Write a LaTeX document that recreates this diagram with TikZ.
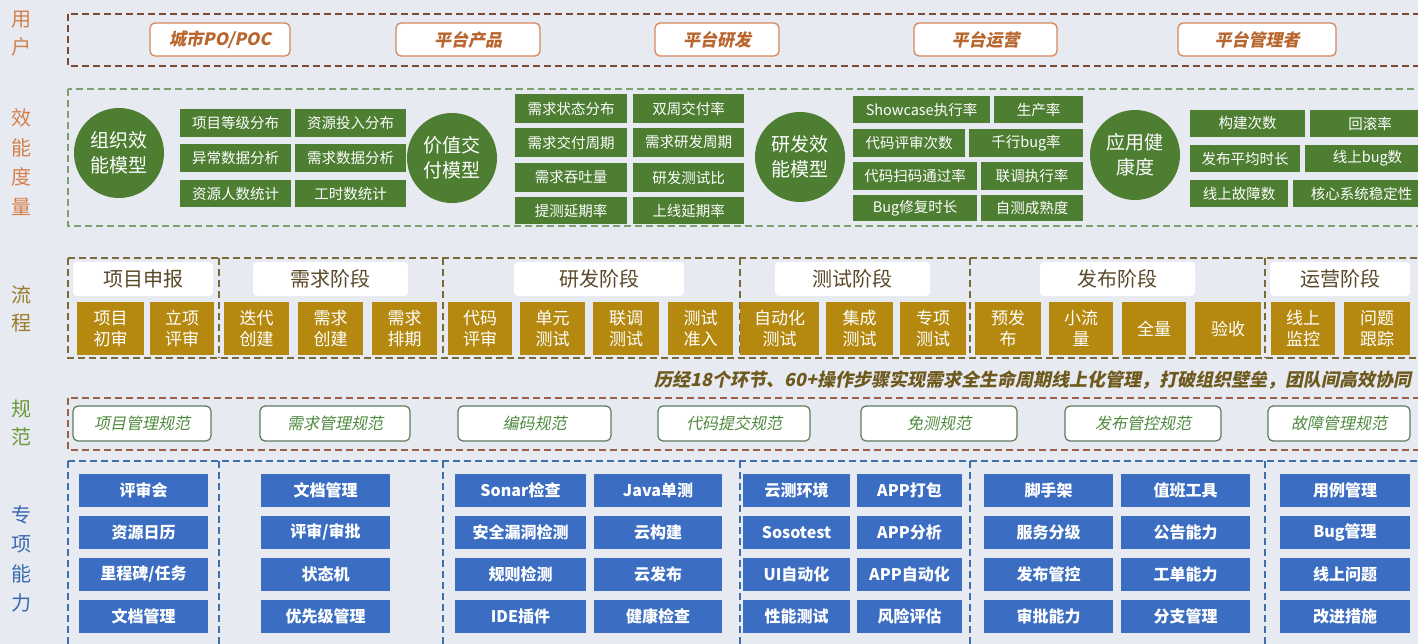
\documentclass[tikz,border=0pt]{standalone}
\usepackage{fontspec}
\setmainfont{Noto Sans CJK SC}
\newfontfamily\slfont{Noto Sans CJK SC}[FakeSlant=0.2]
\definecolor{bg}{HTML}{E7EAF0}
\definecolor{usrb}{HTML}{D4875A}
\definecolor{usrt}{HTML}{B8652E}
\definecolor{usrd}{HTML}{7A4A32}
\definecolor{grn}{HTML}{4E7E32}
\definecolor{grnd}{HTML}{7FA070}
\definecolor{gold}{HTML}{B5890F}
\definecolor{goldd}{HTML}{7A6A3A}
\definecolor{hdrt}{HTML}{5A4828}
\definecolor{capt}{HTML}{6E5A1E}
\definecolor{specd}{HTML}{9A6048}
\definecolor{specb}{HTML}{5E7A5E}
\definecolor{spect}{HTML}{4F8A3F}
\definecolor{blu}{HTML}{3B6EC2}
\definecolor{blud}{HTML}{3F6FA8}
\definecolor{lblo}{HTML}{D4804A}
\definecolor{lblg}{HTML}{9A7B2A}
\definecolor{lblgr}{HTML}{6A9A3A}
\definecolor{lblb}{HTML}{3A6AB0}
\newcommand\bx[7]{\node[#6, minimum width={(#4-#2)*1pt}, minimum height={(#5-#3)*1pt}, inner sep=0pt, outer sep=0pt] (#1) at ({(#2+#4)/2},{(#3+#5)/2}) {#7};}
\tikzset{
  dsh/.style={dash pattern=on 7pt off 4pt, line width=1.6pt},
  user/.style={draw=usrb, line width=1.3pt, rounded corners=5pt, fill=white, text=usrt, font=\slfont\bfseries\fontsize{17}{20}\selectfont},
  gbox/.style={fill=grn, text=white, font=\fontsize{14.5}{16}\selectfont},
  gcirc/.style={circle, fill=grn, text=white, align=center, font=\fontsize{19}{25}\selectfont, inner sep=0pt, minimum size=90pt},
  hdr/.style={fill=white, rounded corners=4pt, text=hdrt, font=\fontsize{20}{22}\selectfont},
  goldbox/.style={fill=gold, text=white, align=center, font=\fontsize{17}{21}\selectfont},
  spec/.style={draw=specb, line width=1.2pt, rounded corners=5pt, fill=white, text=spect, font=\slfont\fontsize{16}{18}\selectfont},
  blubox/.style={fill=blu, text=white, font=\bfseries\fontsize{16}{18}\selectfont},
  side/.style={align=center, font=\fontsize{20}{28}\selectfont},
}
\begin{document}
\begin{tikzpicture}[x=1pt,y=-1pt]
\useasboundingbox (0,0) rectangle (1418,644);
\fill[bg] (0,0) rectangle (1418,644);
\clip (0,0) rectangle (1418,644);
% side labels
\node[side, text=lblo] (l1) at (22,34) {用\\户};
\node[side, text=lblo, font=\fontsize{20}{29.5}\selectfont] (l2) at (22,162) {效\\能\\度\\量};
\node[side, text=lblg] (l3) at (22,309) {流\\程};
\node[side, text=lblgr] (l4) at (22,423) {规\\范};
\node[side, text=lblb, font=\fontsize{20}{29.5}\selectfont] (l5) at (22,559) {专\\项\\能\\力};
% row 1 users
\draw[dsh, usrd] (68,14) rectangle (1440,66);
\bx{u1}{150}{23}{290}{56}{user}{城市PO/POC}
\bx{u2}{396}{23}{540}{56}{user}{平台产品}
\bx{u3}{655}{23}{779}{56}{user}{平台研发}
\bx{u4}{914}{23}{1057}{56}{user}{平台运营}
\bx{u5}{1178}{23}{1336}{56}{user}{平台管理者}
% row 2 metrics
\draw[dsh, grnd] (68,89) rectangle (1440,226);
\node[gcirc] (c1) at (119,153) {组织效\\能模型};
\node[gcirc] (c2) at (452,158) {价值交\\付模型};
\node[gcirc] (c3) at (800,157) {研发效\\能模型};
\node[gcirc] (c4) at (1135,155) {应用健\\康度};
\bx{g11}{180}{109}{291}{137}{gbox}{项目等级分布}
\bx{g12}{295}{109}{406}{137}{gbox}{资源投入分布}
\bx{g13}{180}{144}{291}{172}{gbox}{异常数据分析}
\bx{g14}{295}{144}{406}{172}{gbox}{需求数据分析}
\bx{g15}{180}{180}{291}{207}{gbox}{资源人数统计}
\bx{g16}{295}{180}{406}{207}{gbox}{工时数统计}
\bx{g21}{515}{94}{627}{123}{gbox}{需求状态分布}
\bx{g22}{633}{94}{744}{123}{gbox}{双周交付率}
\bx{g23}{515}{128}{627}{157}{gbox}{需求交付周期}
\bx{g24}{633}{128}{744}{157}{gbox}{需求研发周期}
\bx{g25}{515}{163}{627}{192}{gbox}{需求吞吐量}
\bx{g26}{633}{163}{744}{192}{gbox}{研发测试比}
\bx{g27}{515}{197}{627}{224}{gbox}{提测延期率}
\bx{g28}{633}{197}{744}{224}{gbox}{上线延期率}
\bx{g31}{853}{96}{990}{123}{gbox}{Showcase执行率}
\bx{g32}{994}{96}{1083}{123}{gbox}{生产率}
\bx{g33}{853}{129}{965}{157}{gbox}{代码评审次数}
\bx{g34}{969}{129}{1083}{157}{gbox}{千行bug率}
\bx{g35}{853}{162}{977}{190}{gbox}{代码扫码通过率}
\bx{g36}{981}{162}{1083}{190}{gbox}{联调执行率}
\bx{g37}{853}{195}{977}{221}{gbox}{Bug修复时长}
\bx{g38}{981}{195}{1083}{221}{gbox}{自测成熟度}
\bx{g41}{1190}{110}{1305}{137}{gbox}{构建次数}
\bx{g42}{1310}{110}{1430}{137}{gbox}{回滚率}
\bx{g43}{1190}{145}{1300}{172}{gbox}{发布平均时长}
\bx{g44}{1305}{145}{1430}{172}{gbox}{线上bug数}
\bx{g45}{1190}{180}{1288}{207}{gbox}{线上故障数}
\bx{g46}{1293}{180}{1430}{207}{gbox}{核心系统稳定性}
% row 3 process
\draw[dsh, goldd] (68,258) rectangle (1440,358);
\foreach \xx in {219,443,740,970,1265} \draw[dsh, goldd] (\xx,258) -- (\xx,358);
\bx{h1}{73}{262}{213}{296}{hdr}{项目申报}
\bx{h2}{253}{262}{408}{296}{hdr}{需求阶段}
\bx{h3}{514}{262}{684}{296}{hdr}{研发阶段}
\bx{h4}{775}{262}{930}{296}{hdr}{测试阶段}
\bx{h5}{1040}{262}{1195}{296}{hdr}{发布阶段}
\bx{h6}{1270}{262}{1410}{296}{hdr}{运营阶段}
\bx{p1}{77}{302}{144}{355}{goldbox}{项目\\初审}
\bx{p2}{150}{302}{214}{355}{goldbox}{立项\\评审}
\bx{p3}{224}{302}{289}{355}{goldbox}{迭代\\创建}
\bx{p4}{298}{302}{363}{355}{goldbox}{需求\\创建}
\bx{p5}{372}{302}{437}{355}{goldbox}{需求\\排期}
\bx{p6}{448}{302}{512}{355}{goldbox}{代码\\评审}
\bx{p7}{520}{302}{585}{355}{goldbox}{单元\\测试}
\bx{p8}{593}{302}{659}{355}{goldbox}{联调\\测试}
\bx{p9}{668}{302}{733}{355}{goldbox}{测试\\准入}
\bx{p10}{740}{302}{819}{355}{goldbox}{自动化\\测试}
\bx{p11}{826}{302}{893}{355}{goldbox}{集成\\测试}
\bx{p12}{900}{302}{966}{355}{goldbox}{专项\\测试}
\bx{p13}{975}{302}{1041}{355}{goldbox}{预发\\布}
\bx{p14}{1049}{302}{1113}{355}{goldbox}{小流\\量}
\bx{p15}{1122}{302}{1186}{355}{goldbox}{全量}
\bx{p16}{1195}{302}{1261}{355}{goldbox}{验收}
\bx{p17}{1271}{302}{1335}{355}{goldbox}{线上\\监控}
\bx{p18}{1344}{302}{1410}{355}{goldbox}{问题\\跟踪}
\node[anchor=east, inner sep=0pt, text=capt, font=\slfont\bfseries\fontsize{18}{20}\selectfont] (cap) at (1412,380) {历经18个环节、60+操作步骤实现需求全生命周期线上化管理，打破组织壁垒，团队间高效协同};
% row 4 specs
\draw[dsh, specd] (68,398) rectangle (1440,450);
\bx{s1}{73}{406}{211}{441}{spec}{项目管理规范}
\bx{s2}{260}{406}{410}{441}{spec}{需求管理规范}
\bx{s3}{458}{406}{611}{441}{spec}{编码规范}
\bx{s4}{658}{406}{810}{441}{spec}{代码提交规范}
\bx{s5}{861}{406}{1017}{441}{spec}{免测规范}
\bx{s6}{1065}{406}{1221}{441}{spec}{发布管控规范}
\bx{s7}{1268}{406}{1410}{441}{spec}{故障管理规范}
% row 5 capabilities
\draw[dsh, blud] (68,461) rectangle (1440,660);
\foreach \xx in {219,443,740,970,1265} \draw[dsh, blud] (\xx,461) -- (\xx,660);
\bx{b11}{79}{474}{208}{507}{blubox}{评审会}
\bx{b12}{79}{516}{208}{549}{blubox}{资源日历}
\bx{b13}{79}{558}{208}{591}{blubox}{里程碑/任务}
\bx{b14}{79}{600}{208}{633}{blubox}{文档管理}
\bx{b21}{261}{474}{390}{507}{blubox}{文档管理}
\bx{b22}{261}{516}{390}{549}{blubox}{评审/审批}
\bx{b23}{261}{558}{390}{591}{blubox}{状态机}
\bx{b24}{261}{600}{390}{633}{blubox}{优先级管理}
\bx{b31}{455}{474}{586}{507}{blubox}{Sonar检查}
\bx{b32}{594}{474}{722}{507}{blubox}{Java单测}
\bx{b33}{455}{516}{586}{549}{blubox}{安全漏洞检测}
\bx{b34}{594}{516}{722}{549}{blubox}{云构建}
\bx{b35}{455}{558}{586}{591}{blubox}{规则检测}
\bx{b36}{594}{558}{722}{591}{blubox}{云发布}
\bx{b37}{455}{600}{586}{633}{blubox}{IDE插件}
\bx{b38}{594}{600}{722}{633}{blubox}{健康检查}
\bx{b41}{743}{474}{850}{507}{blubox}{云测环境}
\bx{b42}{857}{474}{962}{507}{blubox}{APP打包}
\bx{b43}{743}{516}{850}{549}{blubox}{Sosotest}
\bx{b44}{857}{516}{962}{549}{blubox}{APP分析}
\bx{b45}{743}{558}{850}{591}{blubox}{UI自动化}
\bx{b46}{857}{558}{962}{591}{blubox}{APP自动化}
\bx{b47}{743}{600}{850}{633}{blubox}{性能测试}
\bx{b48}{857}{600}{962}{633}{blubox}{风险评估}
\bx{b51}{984}{474}{1113}{507}{blubox}{脚手架}
\bx{b52}{1121}{474}{1250}{507}{blubox}{值班工具}
\bx{b53}{984}{516}{1113}{549}{blubox}{服务分级}
\bx{b54}{1121}{516}{1250}{549}{blubox}{公告能力}
\bx{b55}{984}{558}{1113}{591}{blubox}{发布管控}
\bx{b56}{1121}{558}{1250}{591}{blubox}{工单能力}
\bx{b57}{984}{600}{1113}{633}{blubox}{审批能力}
\bx{b58}{1121}{600}{1250}{633}{blubox}{分支管理}
\bx{b61}{1280}{474}{1410}{507}{blubox}{用例管理}
\bx{b62}{1280}{516}{1410}{549}{blubox}{Bug管理}
\bx{b63}{1280}{558}{1410}{591}{blubox}{线上问题}
\bx{b64}{1280}{600}{1410}{633}{blubox}{改进措施}
\end{tikzpicture}
\end{document}
